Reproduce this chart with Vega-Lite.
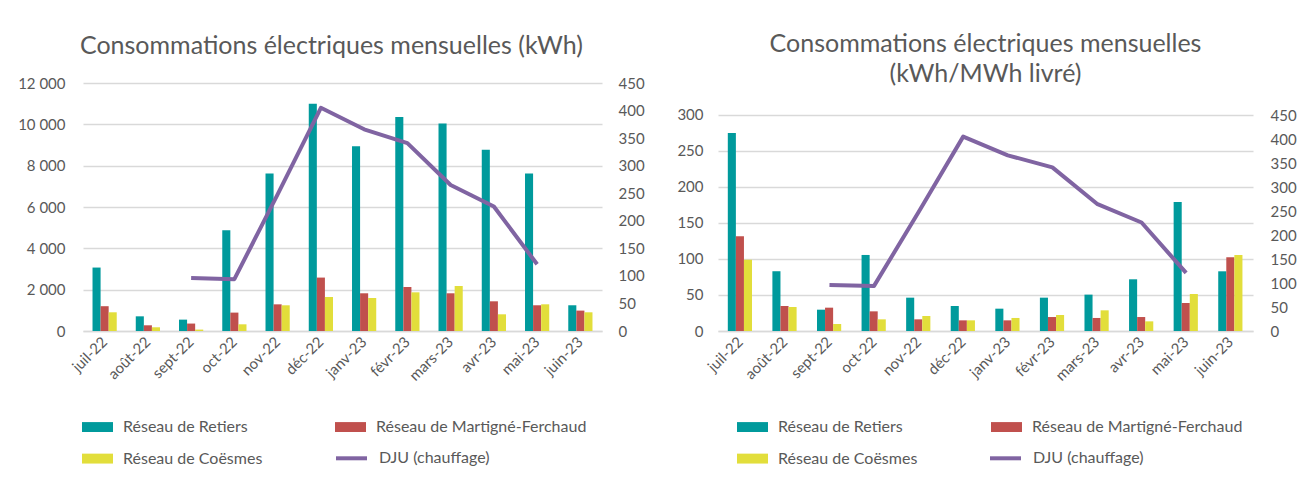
{
  "$schema": "https://vega.github.io/schema/vega-lite/v6.json",
  "background": "white",
  "padding": {"left": 17, "top": 32, "right": 5, "bottom": 5},
  "spacing": 116,
  "bounds": "flush",
  "config": {
    "view": {"stroke": null},
    "font": "Lato",
    "title": {"font": "Lato", "fontSize": 25, "fontWeight": "normal", "color": "#595959", "anchor": "middle", "baseline": "bottom", "lineHeight": 30},
    "axis": {"labelFont": "Lato", "labelFontSize": 15, "labelColor": "#595959", "domain": false, "ticks": false, "gridColor": "#D9D9D9", "gridWidth": 1.3, "title": null},
    "legend": {"labelFont": "Lato", "labelFontSize": 16, "labelColor": "#595959", "title": null, "padding": 0, "labelLimit": 400}
  },
  "datasets": {
    "kwh": [
      {"m": "juil-22", "s": "Réseau de Retiers", "v": 3070},
      {"m": "août-22", "s": "Réseau de Retiers", "v": 710},
      {"m": "sept-22", "s": "Réseau de Retiers", "v": 550},
      {"m": "oct-22", "s": "Réseau de Retiers", "v": 4870},
      {"m": "nov-22", "s": "Réseau de Retiers", "v": 7615},
      {"m": "déc-22", "s": "Réseau de Retiers", "v": 11000},
      {"m": "janv-23", "s": "Réseau de Retiers", "v": 8940},
      {"m": "févr-23", "s": "Réseau de Retiers", "v": 10350},
      {"m": "mars-23", "s": "Réseau de Retiers", "v": 10035},
      {"m": "avr-23", "s": "Réseau de Retiers", "v": 8775},
      {"m": "mai-23", "s": "Réseau de Retiers", "v": 7615},
      {"m": "juin-23", "s": "Réseau de Retiers", "v": 1245},
      {"m": "juil-22", "s": "Réseau de Martigné-Ferchaud", "v": 1200},
      {"m": "août-22", "s": "Réseau de Martigné-Ferchaud", "v": 276},
      {"m": "sept-22", "s": "Réseau de Martigné-Ferchaud", "v": 360},
      {"m": "oct-22", "s": "Réseau de Martigné-Ferchaud", "v": 890},
      {"m": "nov-22", "s": "Réseau de Martigné-Ferchaud", "v": 1290},
      {"m": "déc-22", "s": "Réseau de Martigné-Ferchaud", "v": 2585},
      {"m": "janv-23", "s": "Réseau de Martigné-Ferchaud", "v": 1825},
      {"m": "févr-23", "s": "Réseau de Martigné-Ferchaud", "v": 2130},
      {"m": "mars-23", "s": "Réseau de Martigné-Ferchaud", "v": 1825},
      {"m": "avr-23", "s": "Réseau de Martigné-Ferchaud", "v": 1437},
      {"m": "mai-23", "s": "Réseau de Martigné-Ferchaud", "v": 1245},
      {"m": "juin-23", "s": "Réseau de Martigné-Ferchaud", "v": 987},
      {"m": "juil-22", "s": "Réseau de Coësmes", "v": 905},
      {"m": "août-22", "s": "Réseau de Coësmes", "v": 180},
      {"m": "sept-22", "s": "Réseau de Coësmes", "v": 68},
      {"m": "oct-22", "s": "Réseau de Coësmes", "v": 324},
      {"m": "nov-22", "s": "Réseau de Coësmes", "v": 1244},
      {"m": "déc-22", "s": "Réseau de Coësmes", "v": 1645},
      {"m": "janv-23", "s": "Réseau de Coësmes", "v": 1597},
      {"m": "févr-23", "s": "Réseau de Coësmes", "v": 1872},
      {"m": "mars-23", "s": "Réseau de Coësmes", "v": 2177},
      {"m": "avr-23", "s": "Réseau de Coësmes", "v": 808},
      {"m": "mai-23", "s": "Réseau de Coësmes", "v": 1292},
      {"m": "juin-23", "s": "Réseau de Coësmes", "v": 905}
    ],
    "ratio": [
      {"m": "juil-22", "s": "Réseau de Retiers", "v": 275},
      {"m": "août-22", "s": "Réseau de Retiers", "v": 83},
      {"m": "sept-22", "s": "Réseau de Retiers", "v": 29.6},
      {"m": "oct-22", "s": "Réseau de Retiers", "v": 105.6},
      {"m": "nov-22", "s": "Réseau de Retiers", "v": 46.3},
      {"m": "déc-22", "s": "Réseau de Retiers", "v": 34.7},
      {"m": "janv-23", "s": "Réseau de Retiers", "v": 31},
      {"m": "févr-23", "s": "Réseau de Retiers", "v": 46.3},
      {"m": "mars-23", "s": "Réseau de Retiers", "v": 50.5},
      {"m": "avr-23", "s": "Réseau de Retiers", "v": 71.8},
      {"m": "mai-23", "s": "Réseau de Retiers", "v": 179},
      {"m": "juin-23", "s": "Réseau de Retiers", "v": 82.9},
      {"m": "juil-22", "s": "Réseau de Martigné-Ferchaud", "v": 131.5},
      {"m": "août-22", "s": "Réseau de Martigné-Ferchaud", "v": 34.7},
      {"m": "sept-22", "s": "Réseau de Martigné-Ferchaud", "v": 32.4},
      {"m": "oct-22", "s": "Réseau de Martigné-Ferchaud", "v": 27.3},
      {"m": "nov-22", "s": "Réseau de Martigné-Ferchaud", "v": 16.2},
      {"m": "déc-22", "s": "Réseau de Martigné-Ferchaud", "v": 14.8},
      {"m": "janv-23", "s": "Réseau de Martigné-Ferchaud", "v": 14.8},
      {"m": "févr-23", "s": "Réseau de Martigné-Ferchaud", "v": 19.4},
      {"m": "mars-23", "s": "Réseau de Martigné-Ferchaud", "v": 18.1},
      {"m": "avr-23", "s": "Réseau de Martigné-Ferchaud", "v": 19.4},
      {"m": "mai-23", "s": "Réseau de Martigné-Ferchaud", "v": 38.9},
      {"m": "juin-23", "s": "Réseau de Martigné-Ferchaud", "v": 102.3},
      {"m": "juil-22", "s": "Réseau de Coësmes", "v": 99},
      {"m": "août-22", "s": "Réseau de Coësmes", "v": 33.3},
      {"m": "sept-22", "s": "Réseau de Coësmes", "v": 9.7},
      {"m": "oct-22", "s": "Réseau de Coësmes", "v": 16.2},
      {"m": "nov-22", "s": "Réseau de Coësmes", "v": 20.8},
      {"m": "déc-22", "s": "Réseau de Coësmes", "v": 14.8},
      {"m": "janv-23", "s": "Réseau de Coësmes", "v": 18.1},
      {"m": "févr-23", "s": "Réseau de Coësmes", "v": 22.2},
      {"m": "mars-23", "s": "Réseau de Coësmes", "v": 28.7},
      {"m": "avr-23", "s": "Réseau de Coësmes", "v": 13.4},
      {"m": "mai-23", "s": "Réseau de Coësmes", "v": 51.4},
      {"m": "juin-23", "s": "Réseau de Coësmes", "v": 105.6}
    ],
    "dju": [
      {"m": "sept-22", "k": "DJU (chauffage)", "v": 96},
      {"m": "oct-22", "k": "DJU (chauffage)", "v": 94},
      {"m": "nov-22", "k": "DJU (chauffage)", "v": 248},
      {"m": "déc-22", "k": "DJU (chauffage)", "v": 405},
      {"m": "janv-23", "k": "DJU (chauffage)", "v": 366},
      {"m": "févr-23", "k": "DJU (chauffage)", "v": 341},
      {"m": "mars-23", "k": "DJU (chauffage)", "v": 265},
      {"m": "avr-23", "k": "DJU (chauffage)", "v": 226},
      {"m": "mai-23", "k": "DJU (chauffage)", "v": 121}
    ]
  },
  "hconcat": [
    {
      "width": 519,
      "height": 248,
      "title": {"text": "Consommations électriques mensuelles (kWh)", "offset": 17, "dx": -11},
      "layer": [
        {
          "data": {"name": "kwh"},
          "mark": {"type": "bar"},
          "encoding": {
            "x": {"field": "m", "type": "nominal", "scale": {"domain": ["juil-22","août-22","sept-22","oct-22","nov-22","déc-22","janv-23","févr-23","mars-23","avr-23","mai-23","juin-23"], "paddingInner": 0.44, "paddingOuter": 0.22}, "axis": {"labelAngle": -45, "labelAlign": "right", "labelBaseline": "middle", "labelPadding": 8, "domain": true, "domainColor": "#D9D9D9", "domainWidth": 1.3}},
            "xOffset": {"field": "s", "type": "nominal", "scale": {"domain": ["Réseau de Retiers", "Réseau de Martigné-Ferchaud", "Réseau de Coësmes"]}},
            "y": {"field": "v", "type": "quantitative", "scale": {"domain": [0, 12000], "nice": false}, "axis": {"values": [0,2000,4000,6000,8000,10000,12000], "grid": true, "labelPadding": 18, "labelExpr": "replace(format(datum.value, ','), ',', ' ')"}},
            "color": {"field": "s", "type": "nominal", "scale": {"domain": ["Réseau de Retiers", "Réseau de Martigné-Ferchaud", "Réseau de Coësmes"], "range": ["#009A9C", "#C0504D", "#E2DE3B"]},
              "legend": {"orient": "none", "direction": "horizontal", "legendX": -1, "legendY": 328.3, "columns": 2, "columnPadding": 72, "rowPadding": 7.8, "symbolType": "M-1,-0.32H1V0.32H-1Z", "symbolSize": 961, "symbolStrokeWidth": 0, "labelOffset": 10}}
          }
        },
        {
          "data": {"name": "dju"},
          "mark": {"type": "line", "strokeWidth": 4, "strokeJoin": "round"},
          "encoding": {
            "x": {"field": "m", "type": "nominal"},
            "y": {"field": "v", "type": "quantitative", "scale": {"domain": [0, 450], "nice": false}, "axis": {"orient": "right", "values": [0,50,100,150,200,250,300,350,400,450], "grid": false, "labelPadding": 16}},
            "stroke": {"field": "k", "type": "nominal", "scale": {"range": ["#8064A2"]},
              "legend": {"orient": "none", "legendX": 251, "legendY": 357.8, "symbolType": "M-1,0H1", "symbolSize": 961, "symbolStrokeWidth": 4, "labelOffset": 10}}
          }
        }
      ],
      "resolve": {"scale": {"y": "independent"}}
    },
    {
      "width": 535,
      "height": 248,
      "title": {"text": ["Consommations électriques mensuelles", "(kWh/MWh livré)"], "offset": -4.3},
      "layer": [
        {
          "data": {"name": "ratio"},
          "mark": {"type": "bar"},
          "encoding": {
            "x": {"field": "m", "type": "nominal", "scale": {"domain": ["juil-22","août-22","sept-22","oct-22","nov-22","déc-22","janv-23","févr-23","mars-23","avr-23","mai-23","juin-23"], "paddingInner": 0.44, "paddingOuter": 0.22}, "axis": {"labelAngle": -45, "labelAlign": "right", "labelBaseline": "middle", "labelPadding": 8, "domain": true, "domainColor": "#D9D9D9", "domainWidth": 1.3}},
            "xOffset": {"field": "s", "type": "nominal", "scale": {"domain": ["Réseau de Retiers", "Réseau de Martigné-Ferchaud", "Réseau de Coësmes"]}},
            "y": {"field": "v", "type": "quantitative", "scale": {"domain": [0, 344.4], "nice": false}, "axis": {"values": [0,50,100,150,200,250,300], "grid": true, "labelPadding": 15}},
            "color": {"field": "s", "type": "nominal", "scale": {"domain": ["Réseau de Retiers", "Réseau de Martigné-Ferchaud", "Réseau de Coësmes"], "range": ["#009A9C", "#C0504D", "#E2DE3B"]},
              "legend": {"orient": "none", "direction": "horizontal", "legendX": 19, "legendY": 328.3, "columns": 2, "columnPadding": 73, "rowPadding": 7.8, "symbolType": "M-1,-0.32H1V0.32H-1Z", "symbolSize": 961, "symbolStrokeWidth": 0, "labelOffset": 10}}
          }
        },
        {
          "data": {"name": "dju"},
          "mark": {"type": "line", "strokeWidth": 4, "strokeJoin": "round"},
          "encoding": {
            "x": {"field": "m", "type": "nominal"},
            "y": {"field": "v", "type": "quantitative", "scale": {"domain": [0, 516.7], "nice": false}, "axis": {"orient": "right", "values": [0,50,100,150,200,250,300,350,400,450], "grid": false, "labelPadding": 17}},
            "stroke": {"field": "k", "type": "nominal", "scale": {"range": ["#8064A2"]},
              "legend": {"orient": "none", "legendX": 270, "legendY": 357.8, "symbolType": "M-1,0H1", "symbolSize": 961, "symbolStrokeWidth": 4, "labelOffset": 10}}
          }
        }
      ],
      "resolve": {"scale": {"y": "independent"}}
    }
  ],
  "resolve": {"scale": {"color": "independent", "stroke": "independent", "x": "independent"}, "legend": {"color": "independent", "stroke": "independent"}}
}
